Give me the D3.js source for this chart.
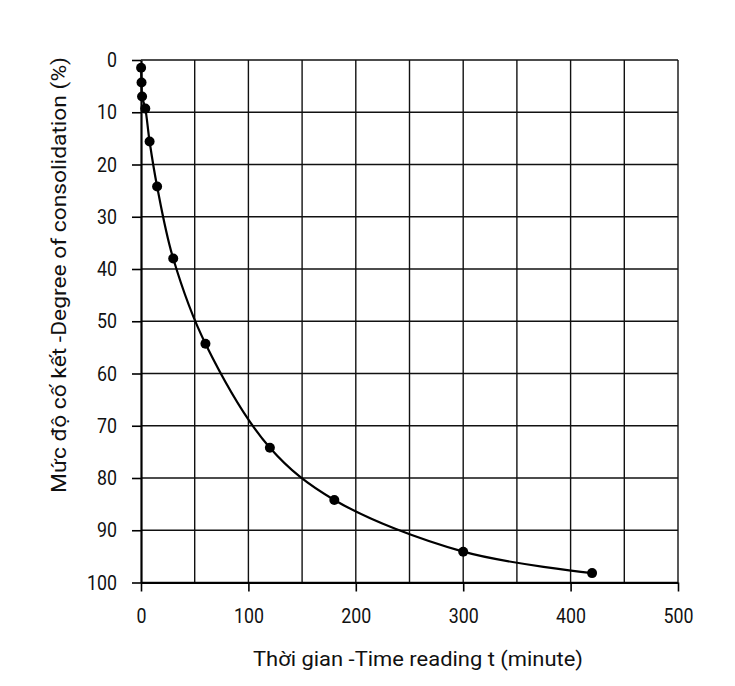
<!DOCTYPE html>
<html><head><meta charset="utf-8">
<script src="https://cdn.jsdelivr.net/npm/d3@7"></script>
<style>
body{margin:0;background:#fff;}
text{font-family:"Liberation Sans Narrow","Arial Narrow",Roboto,"Liberation Sans",sans-serif;fill:#111;}
</style></head>
<body><svg id="c" width="735" height="686"></svg>
<script>
const timeMin = [0.1, 0.5, 1, 4, 8, 15, 30, 60, 120, 180, 300, 420];
const consolidation = [1.5, 4.3, 7.0, 9.3, 15.6, 24.2, 38.0, 54.3, 74.2, 84.2, 94.1, 98.2];
const xTicks = [0, 100, 200, 300, 400, 500];
const yTicks = [0, 10, 20, 30, 40, 50, 60, 70, 80, 90, 100];
const xGrid = [50, 100, 150, 200, 250, 300, 350, 400, 450, 500];
const xLabel = "Thời gian -Time reading t (minute)";
const yLabel = "Mức độ cố kết -Degree of consolidation (%)";

const svg = d3.select("#c");
const x = d3.scaleLinear().domain([0, 500]).range([141, 678]);
const y = d3.scaleLinear().domain([0, 100]).range([60, 582.5]);

// grid
svg.append("g").selectAll("line").data(xGrid).join("line")
  .attr("x1", d => x(d)).attr("x2", d => x(d)).attr("y1", y(0)).attr("y2", y(100))
  .attr("stroke", "#111").attr("stroke-width", 1.4);
svg.append("g").selectAll("line").data(yTicks).join("line")
  .attr("x1", x(0)).attr("x2", x(500)).attr("y1", d => y(d)).attr("y2", d => y(d))
  .attr("stroke", "#111").attr("stroke-width", 1.4);

// axes
const gx = svg.append("g").attr("transform", `translate(0,${y(100)})`)
  .call(d3.axisBottom(x).tickValues(xTicks).tickSize(9).tickPadding(17).tickSizeOuter(0));
const gy = svg.append("g").attr("transform", `translate(${x(0)},0)`)
  .call(d3.axisLeft(y).tickValues(yTicks).tickSize(9).tickPadding(15).tickSizeOuter(0));
[gx, gy].forEach(g => {
  g.select(".domain").attr("stroke", "#000").attr("stroke-width", 2.2);
  g.selectAll(".tick line").attr("stroke", "#000").attr("stroke-width", 1.6);
  g.selectAll(".tick text").attr("font-size", 21).attr("fill", "#111")
   .style("font-family", 'Roboto,"Liberation Sans",sans-serif')
   .attr("textLength", function() { return this.textContent.length * 10; })
   .attr("lengthAdjust", "spacingAndGlyphs");
});

// curve
const line = d3.line().x((d, i) => x(timeMin[i])).y(d => y(d)).curve(d3.curveCatmullRom.alpha(0.5));
svg.append("path").datum(consolidation).attr("d", line)
  .attr("fill", "none").attr("stroke", "#000").attr("stroke-width", 2.2);

// markers
svg.append("g").selectAll("circle").data(consolidation).join("circle")
  .attr("cx", (d, i) => x(timeMin[i])).attr("cy", d => y(d)).attr("r", 5).attr("fill", "#000");

// labels
svg.append("text").attr("x", 418).attr("y", 666).attr("text-anchor", "middle")
  .attr("font-size", 21).attr("textLength", 330).attr("lengthAdjust", "spacingAndGlyphs").text(xLabel);
svg.append("text").attr("transform", "translate(66,275) rotate(-90)").attr("text-anchor", "middle")
  .attr("font-size", 21).attr("textLength", 436).attr("lengthAdjust", "spacingAndGlyphs").text(yLabel);
</script></body></html>
